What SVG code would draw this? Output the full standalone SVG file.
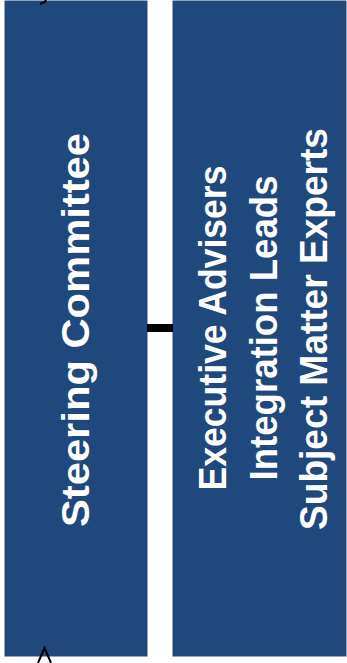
<svg xmlns="http://www.w3.org/2000/svg" width="347" height="663" viewBox="0 0 347 663">
<style>
.box{fill:#1F497D;stroke:#254a7a;stroke-width:1}
.lbl{fill:#ffffff;font-family:"Liberation Sans",Arial,sans-serif;font-weight:bold;font-size:38px;text-anchor:middle}
.conn{stroke:#000;fill:none}
</style>
<rect width="347" height="663" fill="#ffffff"/>
<g id="steering-committee">
<rect class="box" x="5" y="1" width="142" height="655"/>
<text class="lbl" transform="translate(89,330) rotate(-90)" textLength="394" lengthAdjust="spacingAndGlyphs">Steering Committee</text>
</g>
<g id="advisers">
<rect class="box" x="173" y="1" width="173" height="655"/>
<text class="lbl" transform="translate(226,328) rotate(-90)" textLength="325" lengthAdjust="spacingAndGlyphs">Executive Advisers</text>
<text class="lbl" transform="translate(277,328) rotate(-90)" textLength="305" lengthAdjust="spacingAndGlyphs">Integration Leads</text>
<text class="lbl" transform="translate(327,329) rotate(-90)" textLength="402" lengthAdjust="spacingAndGlyphs">Subject Matter Experts</text>
</g>
<g id="connectors">
<line class="conn" x1="147" y1="328" x2="173" y2="328" stroke-width="8"/>
<polyline class="conn" points="38,663 44.5,648 51,663" stroke-width="2"/>
<polyline class="conn" points="40,4 45,2 47,-3" stroke-width="2"/>
</g>
</svg>
